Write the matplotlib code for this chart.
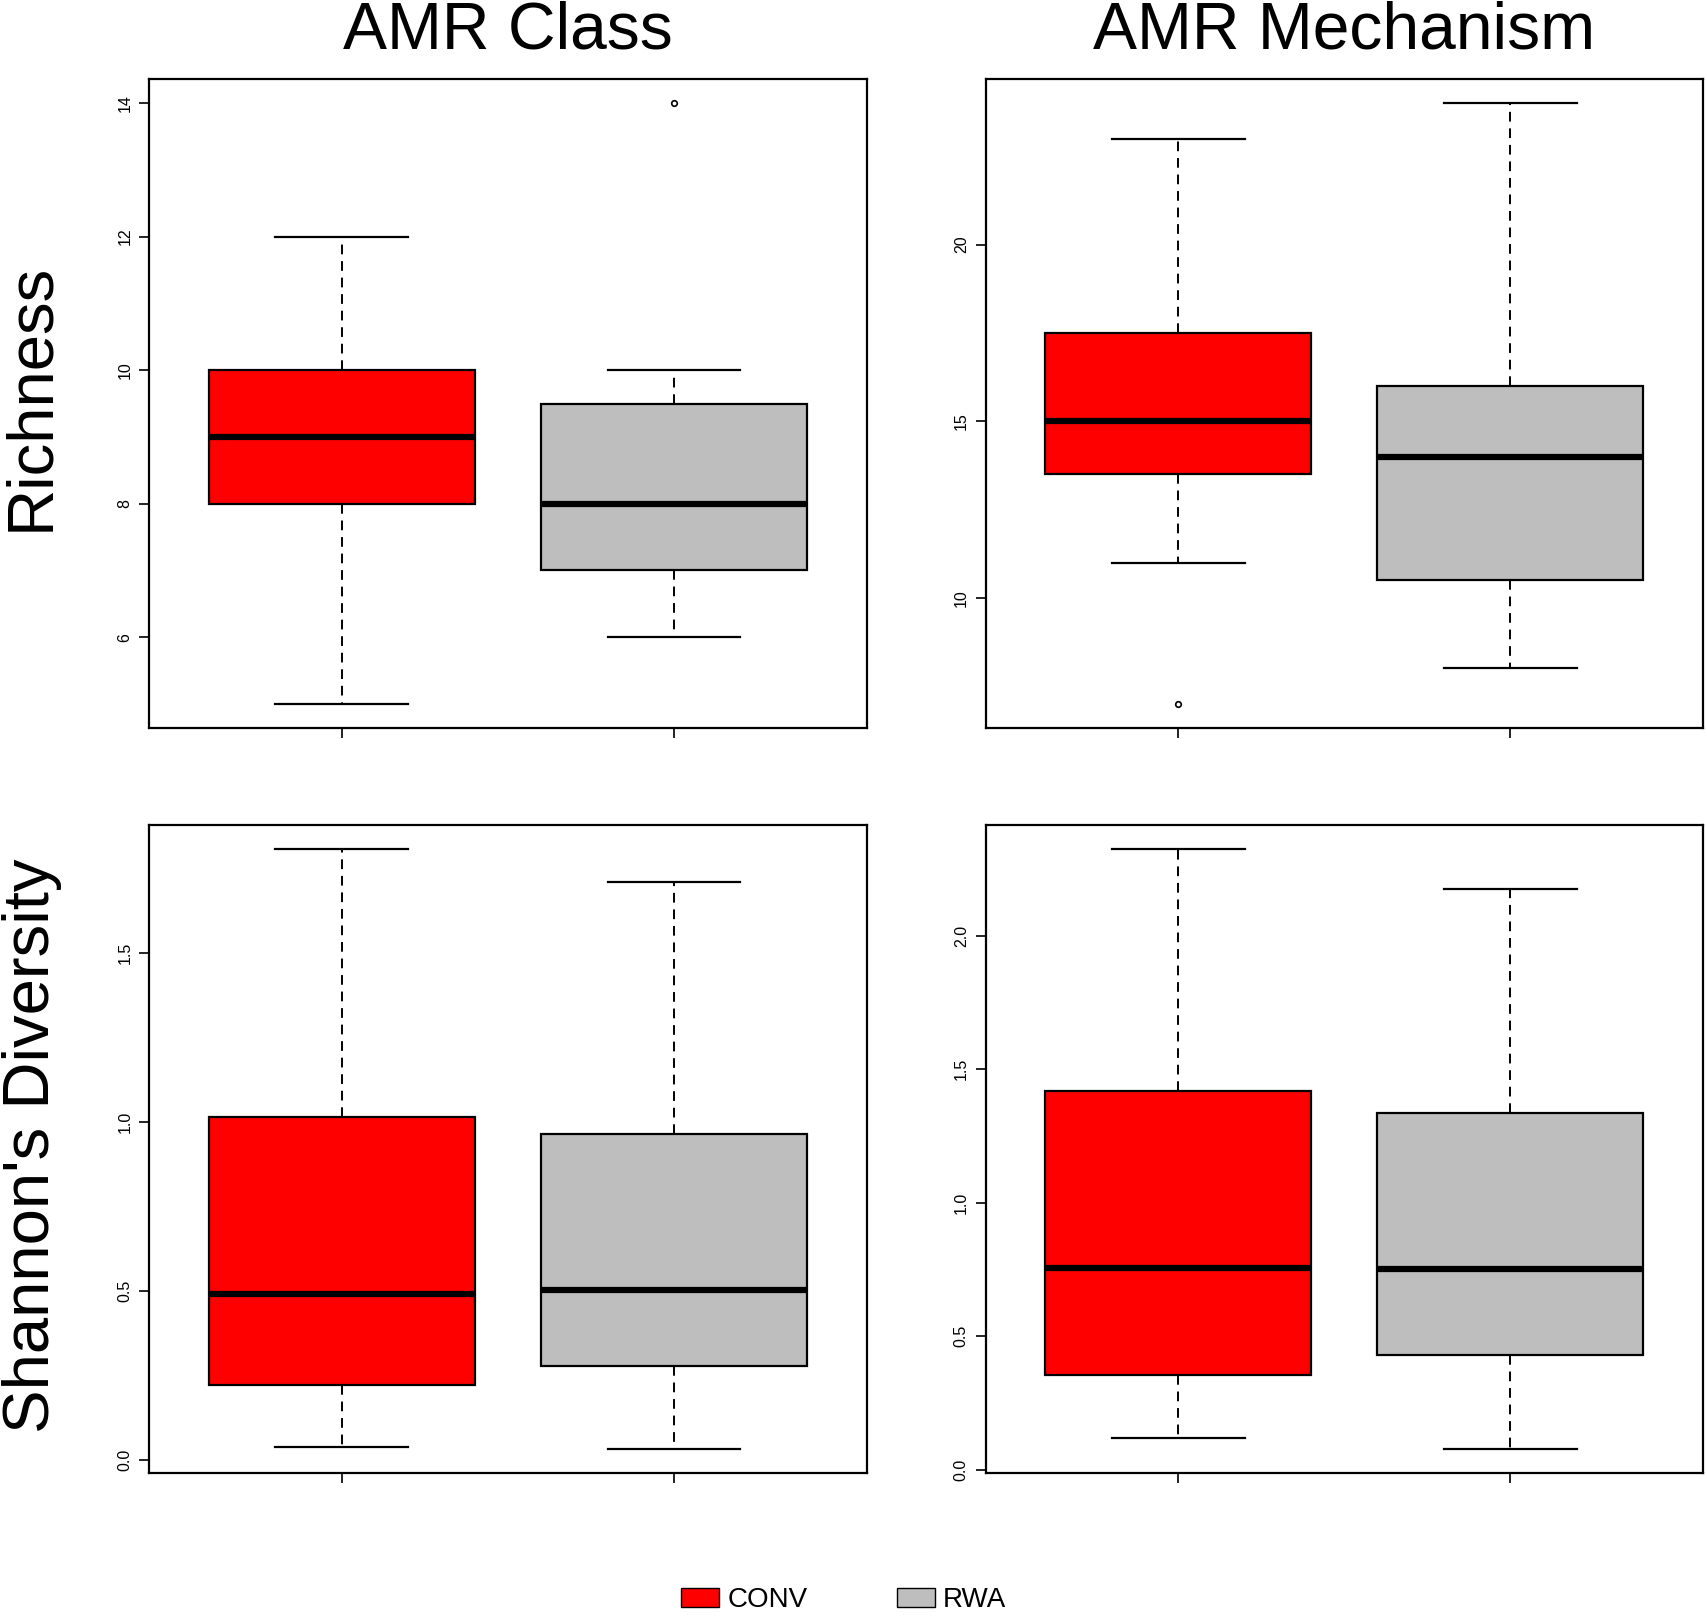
import matplotlib
matplotlib.use("Agg")
import matplotlib.pyplot as plt
from matplotlib.patches import Patch

plt.rcParams['font.family'] = ['Liberation Sans', 'DejaVu Sans']

groups = ["CONV", "RWA"]
colors = ["#FF0000", "#BEBEBE"]
col_titles = ["AMR Class", "AMR Mechanism"]
row_titles = ["Richness", "Shannon's Diversity"]

# five-number summaries per panel: [whislo, q1, med, q3, whishi] for CONV, RWA
rich_class_conv = [5, 8, 9, 10, 12]
rich_class_rwa = [6, 7, 8, 9.5, 10]
rich_class_out = [[], [14]]

rich_mech_conv = [11, 13.5, 15, 17.5, 23]
rich_mech_rwa = [8, 10.5, 14, 16, 24]
rich_mech_out = [[7], []]

shan_class_conv = [0.038, 0.221, 0.490, 1.016, 1.808]
shan_class_rwa = [0.032, 0.279, 0.503, 0.965, 1.708]
shan_class_out = [[], []]

shan_mech_conv = [0.118, 0.354, 0.756, 1.419, 2.325]
shan_mech_rwa = [0.077, 0.431, 0.752, 1.337, 2.175]
shan_mech_out = [[], []]

yticks_rich_class = [6, 8, 10, 12, 14]
yticks_rich_mech = [10, 15, 20]
yticks_shan_class = [0.0, 0.5, 1.0, 1.5]
yticks_shan_mech = [0.0, 0.5, 1.0, 1.5, 2.0]

panels = [
    [(rich_class_conv, rich_class_rwa, rich_class_out, yticks_rich_class, "{:.0f}"),
     (rich_mech_conv, rich_mech_rwa, rich_mech_out, yticks_rich_mech, "{:.0f}")],
    [(shan_class_conv, shan_class_rwa, shan_class_out, yticks_shan_class, "{:.1f}"),
     (shan_mech_conv, shan_mech_rwa, shan_mech_out, yticks_shan_mech, "{:.1f}")],
]

fig = plt.figure(figsize=(17.08, 16.16), dpi=100)
lefts = [0.0874, 0.577]
width = 0.420
bottoms = [0.5496, 0.0883]
height = 0.4014

for r in range(2):
    for c in range(2):
        conv, rwa, outs, ticks, fmt = panels[r][c]
        ax = fig.add_axes([lefts[c], bottoms[r], width, height])
        stats = []
        for vals, o in zip([conv, rwa], outs):
            stats.append(dict(whislo=vals[0], q1=vals[1], med=vals[2], q3=vals[3],
                              whishi=vals[4], fliers=o))
        bp = ax.bxp(stats, positions=[1, 2], widths=0.8, capwidths=0.4,
                    patch_artist=True, showfliers=True,
                    boxprops=dict(edgecolor='black', linewidth=1.6),
                    medianprops=dict(color='black', linewidth=4.5, solid_capstyle='butt'),
                    whiskerprops=dict(color='black', linewidth=1.4, linestyle=(0, (5, 3.5))),
                    capprops=dict(color='black', linewidth=1.6),
                    flierprops=dict(marker='o', markersize=4, markerfacecolor='none',
                                    markeredgecolor='black', markeredgewidth=1.2))
        for patch, col in zip(bp['boxes'], colors):
            patch.set_facecolor(col)
        allv = conv + rwa + [v for o in outs for v in o]
        lo, hi = min(allv), max(allv)
        ext = (hi - lo) * 0.04
        ax.set_ylim(lo - ext, hi + ext)
        ax.set_xlim(0.42, 2.58)
        ax.set_xticks([1, 2])
        ax.set_xticklabels(["", ""])
        ax.set_yticks(ticks)
        ax.set_yticklabels([fmt.format(t) for t in ticks], rotation=90, va='center',
                           fontsize=11.5)
        ax.tick_params(axis='both', length=7, width=1.2, pad=5)
        for sp in ax.spines.values():
            sp.set_linewidth(1.6)
        if r == 0:
            ax.set_title(col_titles[c], fontsize=47.5, pad=22)

fig.text(0.0185, bottoms[0] + height / 2 + 0.004, row_titles[0], rotation=90,
         ha='center', va='center', fontsize=47)
fig.text(0.0185, bottoms[1] + height / 2 + 0.002, row_titles[1], rotation=90,
         ha='center', va='center', fontsize=47)

handles = [Patch(facecolor=col, edgecolor='black', linewidth=1.0) for col in colors]
fig.legend(handles, groups, loc='lower center', bbox_to_anchor=(0.494, -0.007),
           ncol=2, frameon=False, fontsize=20, handlelength=1.37, handleheight=0.7,
           handletextpad=0.3, columnspacing=3.2, borderpad=0)

fig.savefig("out.png", dpi=100)
